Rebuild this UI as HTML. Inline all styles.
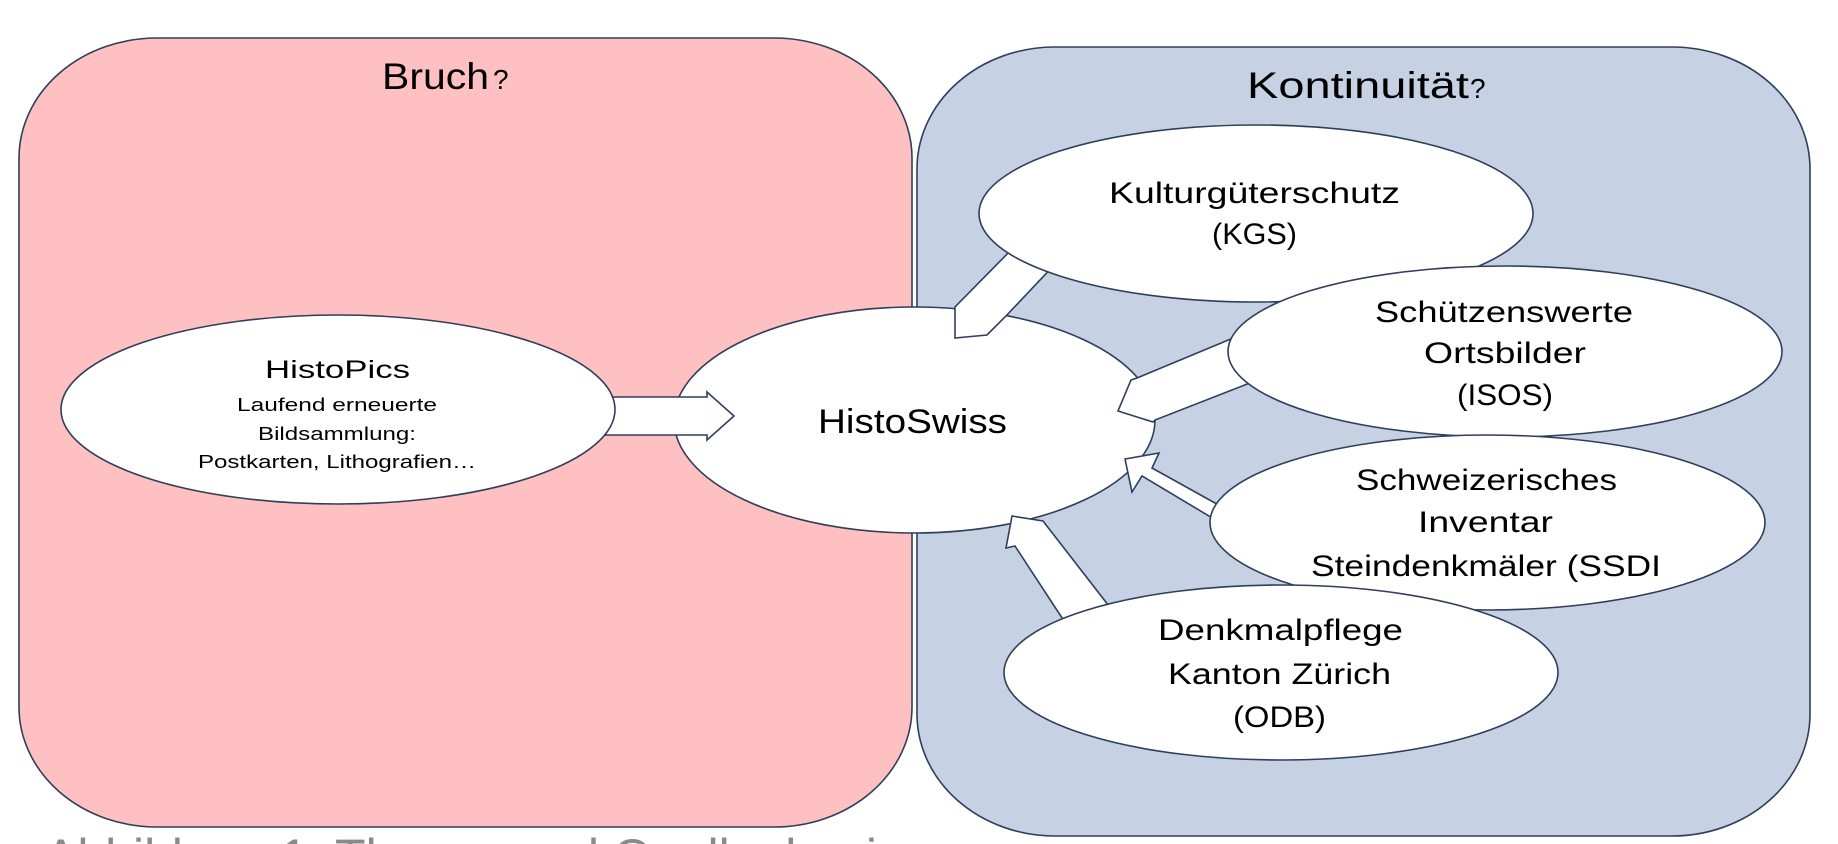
<!DOCTYPE html>
<html>
<head>
<meta charset="utf-8">
<style>
html,body{margin:0;padding:0;background:#fff;overflow:hidden;}
svg{display:block;}
text{font-family:"Liberation Sans",Arial,sans-serif;fill:#000;}
</style>
</head>
<body>
<svg width="1838" height="844" viewBox="0 0 1838 844" xmlns="http://www.w3.org/2000/svg">
  <!-- background panels -->
  <rect x="19" y="38" width="893" height="789" rx="138" ry="120" fill="#FEC0C0" stroke="#2F3E5C" stroke-width="1.6"/>
  <rect x="917" y="47" width="893" height="789" rx="138" ry="122" fill="#C6D2E3" stroke="#2F3E5C" stroke-width="1.6"/>

  <!-- titles -->
  <text x="382" y="89" font-size="37" textLength="107" lengthAdjust="spacingAndGlyphs">Bruch</text>
  <text x="493" y="89" font-size="28">?</text>
  <text x="1247" y="98" font-size="37" textLength="222" lengthAdjust="spacingAndGlyphs">Kontinuität</text>
  <text x="1470" y="98" font-size="28">?</text>

  <!-- central ellipse -->
  <ellipse cx="914.5" cy="420" rx="240.5" ry="113" fill="#fff" stroke="#2F3E5C" stroke-width="1.6"/>

  <!-- arrows (drawn over HistoSwiss, under sources) -->
  <g fill="#fff" stroke="#2F3E5C" stroke-width="1.6" stroke-linejoin="miter">
    <polygon points="590,397 707,397 707,392 734,416 707,440 707,435 590,435"/>
    <polygon points="1015,246 955,307 955,338 987,335 1006,316 1056,263"/>
    <polygon points="1250,331 1137,378 1131,380 1118,411 1153,422 1155,420 1255,381"/>
    <polygon points="1125,459 1159,453 1152,468 1224,508 1219,522 1142,476 1132,492"/>
    <polygon points="1012,516 1043,521 1112,610 1066,624 1015,546 1006,548"/>
  </g>

  <!-- source ellipses -->
  <g fill="#fff" stroke="#2F3E5C" stroke-width="1.6">
    <ellipse cx="338" cy="409.5" rx="277" ry="94.5"/>
    <ellipse cx="1256" cy="213.5" rx="277" ry="88.5"/>
    <ellipse cx="1505" cy="351.5" rx="277" ry="85.5"/>
    <ellipse cx="1487.5" cy="522.5" rx="277.5" ry="87.5"/>
    <ellipse cx="1281" cy="672.5" rx="277" ry="87.5"/>
  </g>

  <!-- HistoPics text -->
  <text x="265" y="378" font-size="25" textLength="145" lengthAdjust="spacingAndGlyphs">HistoPics</text>
  <text x="237" y="411" font-size="18" textLength="200" lengthAdjust="spacingAndGlyphs">Laufend erneuerte</text>
  <text x="258" y="440" font-size="18" textLength="158" lengthAdjust="spacingAndGlyphs">Bildsammlung:</text>
  <text x="198" y="468" font-size="18" textLength="278" lengthAdjust="spacingAndGlyphs">Postkarten, Lithografien…</text>

  <!-- HistoSwiss -->
  <text x="818" y="433" font-size="34" textLength="189" lengthAdjust="spacingAndGlyphs">HistoSwiss</text>

  <!-- KGS -->
  <text x="1109" y="203" font-size="30" textLength="291" lengthAdjust="spacingAndGlyphs">Kulturgüterschutz</text>
  <text x="1212" y="244" font-size="30" textLength="85" lengthAdjust="spacingAndGlyphs">(KGS)</text>

  <!-- ISOS -->
  <text x="1375" y="322" font-size="30" textLength="258" lengthAdjust="spacingAndGlyphs">Schützenswerte</text>
  <text x="1424" y="363" font-size="30" textLength="162" lengthAdjust="spacingAndGlyphs">Ortsbilder</text>
  <text x="1457" y="405" font-size="30" textLength="96" lengthAdjust="spacingAndGlyphs">(ISOS)</text>

  <!-- SSDI -->
  <text x="1356" y="490" font-size="30" textLength="261" lengthAdjust="spacingAndGlyphs">Schweizerisches</text>
  <text x="1418" y="532" font-size="30" textLength="135" lengthAdjust="spacingAndGlyphs">Inventar</text>
  <text x="1311" y="576" font-size="30" textLength="350" lengthAdjust="spacingAndGlyphs">Steindenkmäler (SSDI</text>

  <!-- ODB -->
  <text x="1158" y="640" font-size="30" textLength="245" lengthAdjust="spacingAndGlyphs">Denkmalpflege</text>
  <text x="1168" y="684" font-size="30" textLength="223" lengthAdjust="spacingAndGlyphs">Kanton Zürich</text>
  <text x="1233" y="727" font-size="30" textLength="93" lengthAdjust="spacingAndGlyphs">(ODB)</text>

  <!-- caption (cut off at bottom) -->
  <text x="44" y="874" font-size="50" style="fill:#8a8a8a">Abbildung 1: Thesen und Quellenbasis</text>
</svg>
</body>
</html>
